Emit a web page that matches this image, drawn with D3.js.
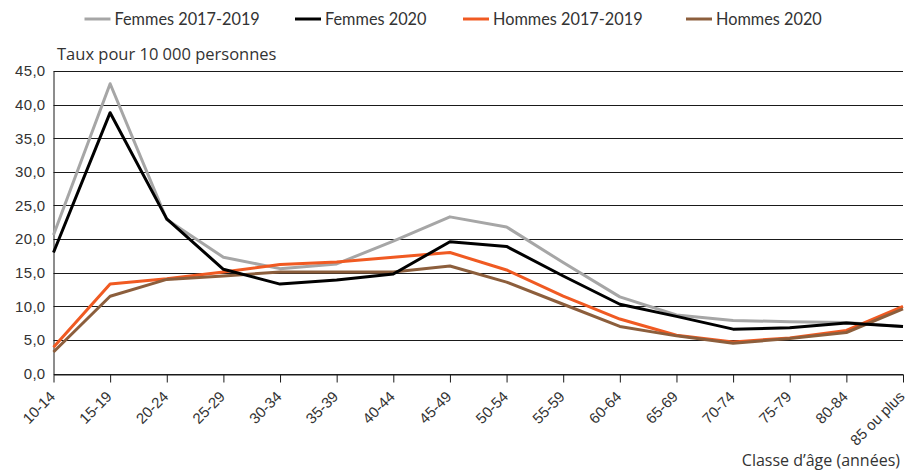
<!DOCTYPE html>
<html><head><meta charset="utf-8">
<script src="https://cdn.jsdelivr.net/npm/d3@7"></script>
<style>
html,body{margin:0;padding:0;background:#fff;}
svg{display:block;font-family:"Lato","Liberation Sans",sans-serif;}
</style></head>
<body><svg id="chart" width="909" height="474"></svg>
<script>
const categories = ["10-14","15-19","20-24","25-29","30-34","35-39","40-44","45-49","50-54","55-59","60-64","65-69","70-74","75-79","80-84","85 ou plus"];
const femmes1719 = [20.6, 43.1, 22.9, 17.3, 15.6, 16.3, 19.7, 23.3, 21.8, 16.5, 11.4, 8.7, 7.9, 7.7, 7.6, 7.0];
const femmes2020 = [18.0, 38.8, 23.0, 15.5, 13.3, 13.9, 14.8, 19.6, 18.9, 14.5, 10.3, 8.5, 6.6, 6.8, 7.5, 7.0];
const hommes1719 = [3.9, 13.3, 14.1, 15.1, 16.2, 16.6, 17.3, 18.0, 15.4, 11.5, 8.1, 5.7, 4.7, 5.3, 6.4, 10.0];
const hommes2020 = [3.2, 11.5, 14.0, 14.5, 15.1, 15.1, 15.1, 16.0, 13.6, 10.3, 7.0, 5.6, 4.5, 5.2, 6.1, 9.6];
const yTicks = [0,5,10,15,20,25,30,35,40,45];
const seriesNames = ["Femmes 2017-2019","Femmes 2020","Hommes 2017-2019","Hommes 2020"];
const seriesColors = ["#a6a6a6","#000000","#f05a22","#8c5e3c"];

const series = [
  {name: seriesNames[0], values: femmes1719, color: seriesColors[0]},
  {name: seriesNames[2], values: hommes1719, color: seriesColors[2]},
  {name: seriesNames[3], values: hommes2020, color: seriesColors[3]},
  {name: seriesNames[1], values: femmes2020, color: seriesColors[1]}
];

const svg = d3.select("#chart");
const mLeft = 53.5, mRight = 903, mTop = 71, mBottom = 373.5;

const x = d3.scalePoint().domain(categories).range([mLeft, mRight]).padding(0);
const y = d3.scaleLinear().domain([0,45]).range([mBottom, mTop]);

// gridlines
svg.append("g").selectAll("line").data(yTicks).join("line")
  .attr("x1", mLeft).attr("x2", mRight)
  .attr("y1", d => Math.round(y(d)) + 0.5).attr("y2", d => Math.round(y(d)) + 0.5)
  .attr("stroke", "#1a1a1a").attr("stroke-width", 1);

// y axis
const yAxis = d3.axisLeft(y).tickValues(yTicks).tickSize(0).tickPadding(8)
  .tickFormat(d => d3.format(".1f")(d).replace(".", ","));
const gy = svg.append("g").attr("transform", `translate(${mLeft},0)`).call(yAxis);
gy.select(".domain").attr("stroke", "#1a1a1a");
gy.selectAll("text").attr("font-size", 15).attr("fill", "#333").attr("letter-spacing", "0.3px");

// x axis
const xAxis = d3.axisBottom(x).tickSize(8).tickSizeOuter(0).tickFormat(d => d);
const gx = svg.append("g").attr("transform", `translate(0,${Math.round(mBottom)+0.5})`).call(xAxis);
gx.select(".domain").attr("stroke", "#1a1a1a");
gx.selectAll(".tick line").attr("stroke", "#1a1a1a");
gx.selectAll("text")
  .attr("font-size", 15).attr("fill", "#333")
  .attr("text-anchor", "end")
  .attr("dy", "0.1em")
  .attr("transform", "translate(1,22) rotate(-45)")
  .attr("x", 0).attr("y", 0);

// lines
const line = d3.line().x((d,i) => x(categories[i])).y(d => y(d));
svg.append("g").selectAll("path").data(series).join("path")
  .attr("d", d => line(d.values))
  .attr("fill", "none").attr("stroke", d => d.color)
  .attr("stroke-width", 3).attr("stroke-linejoin", "round");

// titles
svg.append("text").attr("x", 57).attr("y", 60).attr("font-size", 16.5)
  .attr("font-family", "'Open Sans', sans-serif").attr("fill", "#333")
  .text("Taux pour 10 000 personnes");
svg.append("text").attr("x", 900).attr("y", 466).attr("text-anchor", "end")
  .attr("font-family", "'Open Sans', sans-serif")
  .attr("font-size", 16).attr("fill", "#333").text("Classe d\u2019\u00e2ge (ann\u00e9es)");

// legend
const legendX = [84.5, 295, 463, 686];
const lg = svg.append("g").selectAll("g").data(seriesNames).join("g")
  .attr("transform", (d,i) => `translate(${legendX[i]},19)`);
lg.append("line").attr("x1", 0).attr("x2", 26).attr("y1", 0).attr("y2", 0)
  .attr("stroke", (d,i) => seriesColors[i]).attr("stroke-width", 3);
lg.append("text").attr("x", 30).attr("y", 0).attr("dy", "0.35em")
  .attr("font-size", 16.3).attr("fill", "#333").text(d => d);
</script></body></html>
